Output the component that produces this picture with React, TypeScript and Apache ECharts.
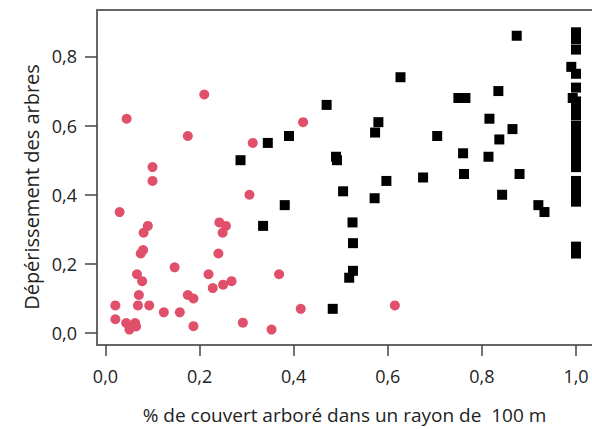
import React, { useEffect, useRef } from "react";
import * as echarts from "echarts";

// Red circles: [x, y]
const redX = [0.21, 0.045, 0.175, 0.42, 0.313, 0.10, 0.10, 0.306, 0.03, 0.09, 0.081, 0.08, 0.075, 0.242, 0.256, 0.249, 0.24, 0.147, 0.067, 0.078, 0.219, 0.228, 0.25, 0.268, 0.369, 0.071, 0.175, 0.187, 0.021, 0.069, 0.093, 0.124, 0.158, 0.021, 0.044, 0.063, 0.051, 0.065, 0.056, 0.187, 0.292, 0.353, 0.415, 0.615];
const redY = [0.69, 0.62, 0.57, 0.61, 0.55, 0.48, 0.44, 0.40, 0.35, 0.31, 0.29, 0.24, 0.23, 0.32, 0.31, 0.29, 0.23, 0.19, 0.17, 0.15, 0.17, 0.13, 0.14, 0.15, 0.17, 0.11, 0.11, 0.10, 0.08, 0.08, 0.08, 0.06, 0.06, 0.04, 0.029, 0.029, 0.01, 0.019, 0.02, 0.02, 0.03, 0.01, 0.07, 0.08];

// Black squares
const blackX = [0.287, 0.345, 0.39, 0.47, 0.49, 0.492, 0.335, 0.381, 0.483, 0.505, 0.525, 0.526, 0.526, 0.518, 0.572, 0.597, 0.573, 0.58, 0.627, 0.675, 0.705, 0.75, 0.765, 0.76, 0.762, 0.814, 0.816, 0.835, 0.837, 0.843, 0.865, 0.874, 0.88, 0.92, 0.933,
  1.0, 1.0, 1.0, 0.99, 1.0, 1.0, 0.993, 1.0, 1.0, 1.0, 1.0, 1.0, 1.0, 1.0, 1.0, 1.0, 1.0, 1.0, 1.0, 1.0, 1.0, 1.0, 1.0];
const blackY = [0.50, 0.55, 0.57, 0.66, 0.51, 0.50, 0.31, 0.37, 0.07, 0.41, 0.32, 0.26, 0.18, 0.16, 0.39, 0.44, 0.58, 0.61, 0.74, 0.45, 0.57, 0.68, 0.68, 0.52, 0.46, 0.51, 0.62, 0.70, 0.56, 0.40, 0.59, 0.86, 0.46, 0.37, 0.35,
  0.87, 0.85, 0.82, 0.77, 0.75, 0.71, 0.68, 0.67, 0.65, 0.63, 0.60, 0.58, 0.56, 0.54, 0.52, 0.50, 0.48, 0.44, 0.42, 0.40, 0.38, 0.25, 0.23];

const tickValues = [0, 0.2, 0.4, 0.6, 0.8, 1.0];
const yTickValues = [0, 0.2, 0.4, 0.6, 0.8];

const xTitle = "% de couvert arboré dans un rayon de  100 m";
const yTitle = "Dépérissement des arbres";

const fmt = (v: number) => v.toFixed(1).replace(".", ",");

export default function App() {
  const ref = useRef<HTMLDivElement>(null);
  useEffect(() => {
    const chart = echarts.init(ref.current!, null, { renderer: "svg" });
    const font = "Open Sans";
    const axisColor = "#666";
    const xMin = -0.018;
    const xMax = 1.034;
    chart.setOption({
      animation: false,
      grid: { left: 97, top: 10, width: 495, height: 336, show: false },
      graphic: [
        {
          type: "text",
          x: 31,
          y: 187,
          rotation: Math.PI / 2,
          style: {
            text: yTitle,
            fontFamily: font,
            fontSize: 20,
            fill: "#222",
            align: "center",
            verticalAlign: "middle",
          },
        },
      ],
      xAxis: [
        {
          type: "value", min: xMin, max: xMax,
          name: xTitle, nameLocation: "middle", nameGap: 60,
          nameTextStyle: { fontFamily: font, fontSize: 19, color: "#222" },
          axisLine: { show: true, onZero: false, lineStyle: { color: axisColor, width: 2 } },
          axisTick: { show: true, length: 11, customValues: tickValues, lineStyle: { color: "#444", width: 1.5 } },
          axisLabel: { customValues: tickValues, formatter: (v: number) => fmt(v), margin: 22, fontFamily: font, fontSize: 18, color: "#222" },
          splitLine: { show: false },
        },
        {
          type: "value", position: "top", min: xMin, max: xMax,
          axisLine: { show: true, onZero: false, lineStyle: { color: axisColor, width: 2 } },
          axisTick: { show: false },
          axisLabel: { show: false },
          splitLine: { show: false },
        },
      ],
      yAxis: {
        type: "value", min: -0.0346, max: 0.9345,
        axisLine: { show: true, onZero: false, lineStyle: { color: axisColor, width: 2 } },
        axisTick: { show: true, length: 12, customValues: yTickValues, lineStyle: { color: "#444", width: 1.5 } },
        axisLabel: { customValues: yTickValues, formatter: (v: number) => fmt(v), margin: 20, fontFamily: font, fontSize: 18, color: "#222" },
        splitLine: { show: false },
      },
      series: [
        {
          type: "scatter",
          symbol: "rect",
          symbolSize: 10,
          itemStyle: { color: "#000", opacity: 1 },
          data: blackX.map((x, i) => [x, blackY[i]]),
        },
        {
          type: "scatter",
          symbol: "circle",
          symbolSize: 10,
          itemStyle: { color: "#e0506b", opacity: 1 },
          data: redX.map((x, i) => [x, redY[i]]),
        },
      ],
    });
    return () => chart.dispose();
  }, []);
  return (
    <div
      ref={ref}
      style={{ position: "fixed", left: 0, top: 0, width: 592, height: 429, background: "#fff" }}
    />
  );
}
